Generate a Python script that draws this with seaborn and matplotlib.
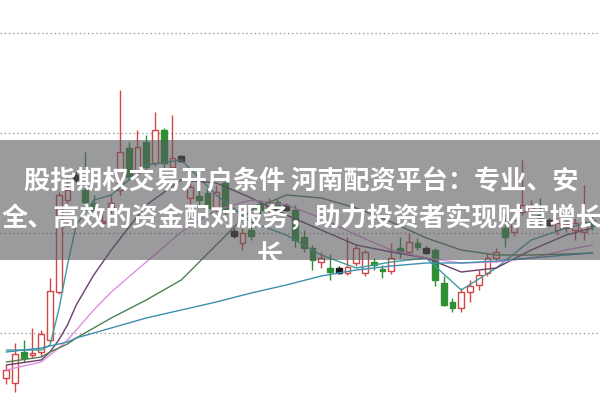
import numpy as np
import pandas as pd
import matplotlib
matplotlib.use("Agg")
import matplotlib.pyplot as plt
import seaborn as sns
from matplotlib.patches import Rectangle

# candle data (index = trading day on screen)
opens = [5.5, 5.0, 8.1, 7.8, 8.1, 9.3, 14.1, 23.3, 25.6, 24.3,
         23.0, 21.0, 22.5, 24.3, 28.5, 26.0, 29.1, 27.0, 30.3, 26.6,
         27.5, 23.5, 23.7, 24.0, 22.5, 25.0, 20.0, 19.0, 20.3, 22.9,
         22.5, 23.1, 22.6, 22.3, 19.6, 18.5, 17.1, 16.5, 16.3, 16.0,
         17.0, 16.0, 17.1, 16.4, 16.2, 18.5, 18.1, 19.0, 18.3, 18.3,
         15.0, 13.1, 12.5, 14.1, 14.8, 16.0, 17.5, 20.5, 20.1, 22.1,
         22.3, 21.8, 21.1, 20.3, 20.5, 20.3, 20.1, 21.3]
highs = [6.8, 9.0, 9.3, 10.5, 10.3, 15.5, 24.1, 25.8, 26.1, 28.1,
         23.8, 22.1, 23.8, 34.3, 29.1, 30.3, 29.8, 32.1, 30.5, 31.8,
         27.8, 25.3, 24.3, 24.5, 24.8, 25.5, 20.5, 20.5, 20.8, 23.3,
         23.5, 23.5, 23.0, 22.8, 20.3, 18.8, 18.1, 17.9, 16.7, 19.6,
         18.8, 18.3, 17.5, 16.8, 19.0, 19.6, 20.0, 19.5, 18.7, 18.5,
         15.7, 13.5, 14.5, 15.3, 16.3, 18.0, 18.5, 22.0, 21.8, 27.3,
         23.3, 23.5, 21.5, 21.5, 21.3, 21.5, 24.8, 21.8]
lows = [4.9, 4.1, 7.1, 7.5, 7.7, 9.1, 13.9, 22.8, 25.1, 22.7,
        21.8, 20.5, 22.0, 23.8, 25.3, 25.7, 26.1, 26.7, 26.5, 26.3,
        27.1, 22.7, 22.8, 22.1, 22.1, 21.8, 19.5, 18.3, 19.3, 21.9,
        22.1, 21.9, 22.2, 18.6, 18.1, 16.3, 16.5, 15.3, 15.9, 15.8,
        16.7, 15.7, 16.3, 15.5, 15.9, 17.5, 17.8, 18.3, 17.9, 14.7,
        12.7, 12.1, 12.1, 13.1, 14.3, 15.7, 17.1, 18.6, 19.7, 21.8,
        21.5, 20.6, 20.7, 19.8, 20.1, 19.3, 19.3, 20.3]
closes = [6.3, 7.9, 7.5, 8.0, 9.9, 14.2, 23.8, 24.3, 25.6, 23.1,
          22.3, 21.2, 23.0, 28.1, 25.6, 28.6, 26.6, 30.3, 27.0, 27.5,
          27.5, 24.6, 23.3, 22.5, 24.1, 22.1, 20.0, 20.0, 19.7, 22.3,
          23.1, 22.3, 22.6, 19.3, 18.5, 17.3, 17.5, 16.1, 16.3, 16.6,
          18.5, 18.1, 16.8, 16.2, 17.5, 18.0, 19.1, 18.6, 18.3, 15.3,
          12.8, 12.5, 14.1, 14.7, 15.8, 17.5, 18.1, 19.6, 21.3, 22.8,
          22.8, 21.5, 21.1, 21.0, 20.9, 21.0, 21.1, 20.7]

# moving average lines
ma_x = [0, 4, 5, 6, 7, 8, 10, 12, 16, 20, 24, 28, 32, 36, 40, 44, 48, 52, 56, 60, 64, 67]
ma_a = [8.3, 8.3, 8.8, 12.3, 16.8, 20.8, 23.3, 23.8, 26.8, 27.3, 23.8, 21.1,
        19.8, 17.8, 16.5, 17.1, 17.5, 14.3, 16.5, 19.3, 20.5, 21.1]
ma_b = [6.8, 7.3, 8.1, 9.3, 10.8, 12.8, 15.8, 18.3, 22.8, 25.3, 25.0, 23.5,
        21.8, 20.3, 18.8, 18.1, 17.5, 16.1, 16.5, 18.3, 19.8, 20.5]
ma_c = [6.3, 7.1, 7.8, 8.5, 9.3, 10.3, 12.3, 14.1, 17.1, 20.1, 22.3, 23.3,
        22.8, 21.5, 19.8, 18.3, 17.5, 17.0, 17.1, 17.5, 18.3, 18.8]
ma_d = [7.1, 7.6, 8.1, 8.5, 8.9, 9.5, 10.5, 11.5, 13.3, 15.3, 18.8, 22.3,
        23.8, 23.5, 22.5, 21.1, 19.5, 18.3, 17.8, 17.8, 17.9, 18.0]
ma_e = [8.1, 8.5, 8.7, 8.9, 9.1, 9.5, 10.0, 10.5, 11.5, 12.3, 13.1, 14.0,
        14.8, 15.7, 16.3, 16.7, 17.0, 17.0, 17.2, 17.5, 17.8, 18.0]

grid_levels = [10, 20, 30, 40]

title_lines = ["股指期权交易开户条件 河南配资平台：专业、安",
               "全、高效的资金配对服务，助力投资者实现财富增长",
               "长"]

sns.set_theme(style="white")
plt.rcParams["font.family"] = ["Noto Sans CJK SC", "DejaVu Sans"]

fig = plt.figure(figsize=(6, 4), dpi=100)
ax = fig.add_axes([0, 0, 1, 1])

x = np.arange(len(opens))
o = np.array(opens)
c = np.array(closes)
up = c > o
down = c < o
flat = c == o

# wicks
wick_colors = np.where(up, "#d64545", np.where(down, "#2f8f35", "#222222"))
ax.vlines(x, lows, highs, colors=wick_colors, linewidth=1, zorder=2)

# bodies
w = 0.68
ax.bar(x[up], (c - o)[up], bottom=o[up], width=w, facecolor="white",
       edgecolor="#d64545", linewidth=1, zorder=3)
ax.bar(x[down], (o - c)[down], bottom=c[down], width=w, facecolor="#2f8f35",
       edgecolor="#2f8f35", linewidth=1, zorder=3)
ax.bar(x[flat], 0.5, bottom=o[flat] - 0.25, width=w, facecolor="#1a1a1a",
       edgecolor="#1a1a1a", linewidth=1, zorder=3)

ma_df = pd.DataFrame({"x": ma_x * 5,
                      "v": ma_a + ma_b + ma_c + ma_d + ma_e,
                      "ma": ["a"] * len(ma_x) + ["b"] * len(ma_x) + ["c"] * len(ma_x)
                            + ["d"] * len(ma_x) + ["e"] * len(ma_x)})
sns.lineplot(data=ma_df, x="x", y="v", hue="ma", ax=ax, legend=False,
             palette=["#3d9c9c", "#6b3f6b", "#e08fe0", "#4f7f4f", "#3d8fb0"],
             linewidth=1, zorder=4)

ax.set_xlim(-0.714, 67.86)
ax.set_ylim(3.3, 43.3)
ax.set_yticks(grid_levels)
ax.set_xticks([])
ax.grid(axis="y", linestyle=(0, (1, 2)), color="#a0a0a0", linewidth=1)
ax.grid(axis="x", visible=False)
ax.tick_params(length=0, labelleft=False, labelbottom=False)
ax.set_xlabel("")
ax.set_ylabel("")
sns.despine(ax=ax, left=True, bottom=True)

# grey banner with title
banner = Rectangle((0, 0.35), 1, 0.30, transform=ax.transAxes,
                   facecolor="#58585c", alpha=0.6, edgecolor="none", zorder=5)
ax.add_patch(banner)

kw = dict(transform=ax.transAxes, color="white", fontsize=18.8,
          fontweight="bold", va="center", zorder=6)
ax.text(0.502, 0.545, title_lines[0], ha="center", **kw)
ax.text(0.003, 0.4525, title_lines[1], ha="left", **kw)
t3 = ax.text(0.427, 0.36, title_lines[2], ha="left", **kw)
t3.set_clip_path(banner)

fig.savefig("out.png", dpi=100)
